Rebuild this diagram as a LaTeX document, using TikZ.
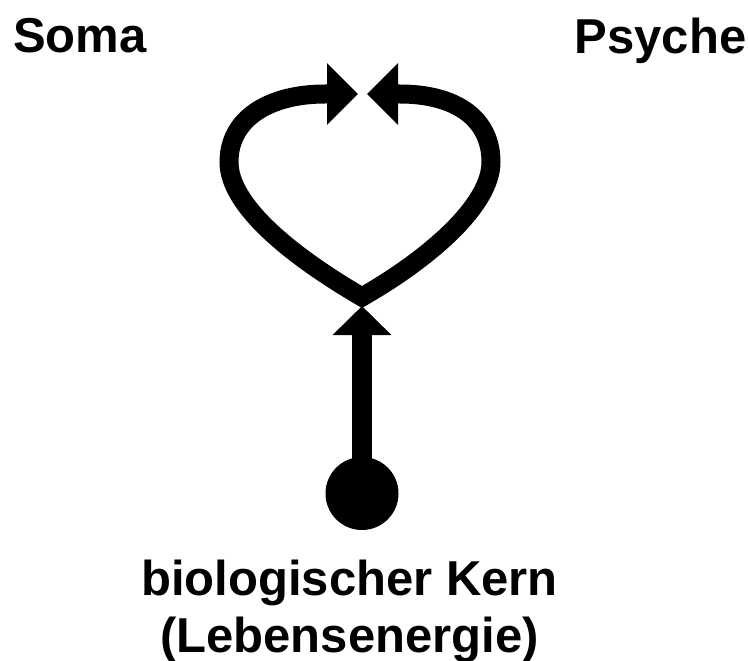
\documentclass[tikz,border=0pt]{standalone}
\usepackage{fontspec}
\setmainfont{Liberation Sans}
\usetikzlibrary{arrows.meta}
\tikzset{
  lbl/.style={font=\fontsize{49}{57}\selectfont\bfseries, inner sep=0pt},
  loopline/.style={line width=19pt, line join=miter, miter limit=10,
    {Triangle[length=31pt,width=60pt]}-{Triangle[length=31pt,width=60pt]}},
  shaft/.style={line width=20pt, -{Triangle[length=29pt,width=57pt]}},
  kerndot/.style={circle, fill=black, minimum size=73pt, inner sep=0pt}
}
\begin{document}
\begin{tikzpicture}[x=1pt,y=-1pt]
  \fill[white] (0,0) rectangle (748,661);
  \useasboundingbox (0,0) rectangle (748,661);
  % labels
  \node[lbl, anchor=base west] (soma) at (13,53) {Soma};
  \node[lbl, anchor=base east] (psyche) at (746.5,54) {Psyche};
  \node[lbl, anchor=base] (kernA) at (349.5,595) {biologischer Kern};
  \node[lbl, anchor=base] (kernB) at (349.5,652) {(Lebensenergie)};
  % core
  \node[kerndot] (kern) at (362,493.5) {};
  \coordinate (apex) at (362,297);
  \coordinate (tipup) at (362,306);
  \coordinate (tipL) at (358,94);
  \coordinate (tipR) at (367,94);
  % loop
  \draw[loopline] (tipL) -- (325,94)
     .. controls (270,94) and (229,118) .. (229,162)
     .. controls (229,205) and (290,255) .. (apex)
     .. controls (430,258) and (491,205) .. (491,162)
     .. controls (491,118) and (455,94) .. (400,94) -- (tipR);
  % shaft
  \draw[shaft] (kern.center) -- (tipup);
\end{tikzpicture}
\end{document}
